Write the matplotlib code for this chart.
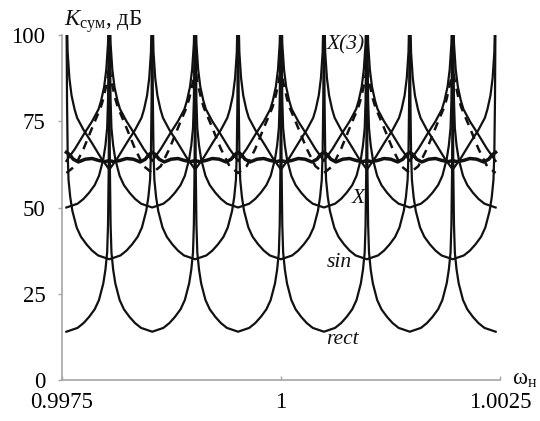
import numpy as np
import matplotlib.pyplot as plt

# ---------------- data ----------------
x_lo, x_hi = 0.99755, 1.00245
half = 0.00049                      # half of one period
m_centres = [0.99755, 0.99853, 0.99951, 1.00049, 1.00147, 1.00245]
q_centres = [0.99804, 0.99902, 1.00000, 1.00098, 1.00196]

# U-shaped arc (rect, sin, X): position from minimum to pole (fraction of half period), rise in dB
u_frac = [0, 0.26, 0.40, 0.53, 0.66, 0.76, 0.86, 0.91, 0.95, 0.97, 0.985, 0.995, 1.0]
u_rise = [0, 1.1, 2.5, 4.3, 6.5, 9.2, 14, 18, 23, 31, 46, 66, 90]
rect_min = 14
sin_min = 35
x_min = 50

# cusp-shaped arcs near the top band
v_frac = [0, 0.2, 0.42, 0.6, 0.75, 0.81, 0.88, 0.93, 0.97, 0.99, 1.0]
v_rise = [0, 3.5, 8, 11.5, 15, 17.5, 21.5, 26.5, 34, 45, 60]
d_min = 61      # minima at q_centres
e_min = 63.5    # minima at m_centres

# dashed X(3)
dash_frac = [0, 0.2, 0.4, 0.63, 0.8, 0.86, 0.95, 1.0]
dash_val = [60, 62, 67, 74, 79, 81.5, 86.5, 91]

# thick wavy curve, one period starting at an m_centre
wave_frac = [0, 0.04, 0.08, 0.14, 0.22, 0.30, 0.38, 0.45, 0.50, 0.55, 0.62, 0.70, 0.78, 0.86, 0.92, 0.96, 1.0]
wave_val = [66.0, 65.3, 64.0, 63.2, 64.0, 64.2, 63.6, 63.3, 63.6, 63.3, 63.6, 64.2, 64.0, 63.2, 64.0, 65.3, 66.0]

y_ticks = [0, 25, 50, 75, 100]
x_ticks = [0.9975, 1.0, 1.0025]
x_tick_labels = ['0.9975', '1', '1.0025']


def arcs(centres, frac, vals, base=0.0):
    xs, ys = [], []
    for c in centres:
        for f, v in zip(frac[::-1], vals[::-1]):
            xs.append(c - f * half)
            ys.append(base + v)
        for f, v in zip(frac[1:], vals[1:]):
            xs.append(c + f * half)
            ys.append(base + v)
    xs, ys = np.array(xs), np.array(ys)
    keep = (xs >= x_lo - 1e-9) & (xs <= x_hi + 1e-9)
    return xs[keep], ys[keep]


def wave():
    xs, ys = [], []
    for c in m_centres[:-1]:
        for f, v in zip(wave_frac, wave_val):
            xs.append(c + f * 2 * half)
            ys.append(v)
    return np.array(xs), np.array(ys)


plt.rcParams['font.family'] = ['Liberation Serif', 'DejaVu Serif']
plt.rcParams['mathtext.fontset'] = 'custom'
plt.rcParams['mathtext.rm'] = 'Liberation Serif'
plt.rcParams['mathtext.it'] = 'Liberation Serif:italic'

fig = plt.figure(figsize=(5.4, 4.21), dpi=100)
ax = fig.add_axes([62 / 540, 41 / 421, 438 / 540, 345 / 421])

ink = '#111111'
lw = 1.6

ax.plot(*arcs(m_centres, u_frac, u_rise, rect_min), color=ink, lw=lw)
ax.plot(*arcs(q_centres, u_frac, u_rise, sin_min), color=ink, lw=lw)
ax.plot(*arcs(m_centres, u_frac, u_rise, x_min), color=ink, lw=lw)
ax.plot(*arcs(q_centres, v_frac, v_rise, d_min), color=ink, lw=lw)
ax.plot(*arcs(m_centres, v_frac, v_rise, e_min), color=ink, lw=lw)
ax.plot(*arcs(m_centres, dash_frac, dash_val), color=ink, lw=1.8, linestyle=(0, (3.4, 2.6)))
ax.plot(*wave(), color=ink, lw=2.5)

ax.set_xlim(0.9975, 1.0025)
ax.set_ylim(0, 100)
ax.set_yticks(y_ticks)
ax.set_xticks(x_ticks)
ax.set_xticklabels(x_tick_labels)

for s in ['top', 'right']:
    ax.spines[s].set_visible(False)
for s in ['left', 'bottom']:
    ax.spines[s].set_color('#a5a5a5')
    ax.spines[s].set_linewidth(1.2)
ax.tick_params(axis='y', direction='out', length=3, width=1, color='#a5a5a5',
               labelsize=16.5, pad=9)
ax.tick_params(axis='x', direction='in', length=3, width=1, color='#a5a5a5',
               labelsize=16.5, pad=9)

# curve labels
lab = dict(fontsize=15.5, style='italic', ha='center', va='center', color=ink)
ax.text(1.000742, 97.1, 'X(3)', **lab)
ax.text(1.000879, 52.5, 'X', **lab)
ax.text(1.000662, 34.2, 'sin', **lab)
ax.text(1.000696, 11.6, 'rect', **lab)

# axis titles
fig.text(64 / 540, 1 - 22 / 421, r'$K_{\mathregular{сум}}$, дБ', fontsize=16.5,
         ha='left', va='center', color=ink)
fig.text(512 / 540, 1 - 380 / 421, r'$\mathregular{ω_{н}}$', fontsize=16.5,
         ha='left', va='center', color=ink)

fig.savefig('out.png', dpi=100)
